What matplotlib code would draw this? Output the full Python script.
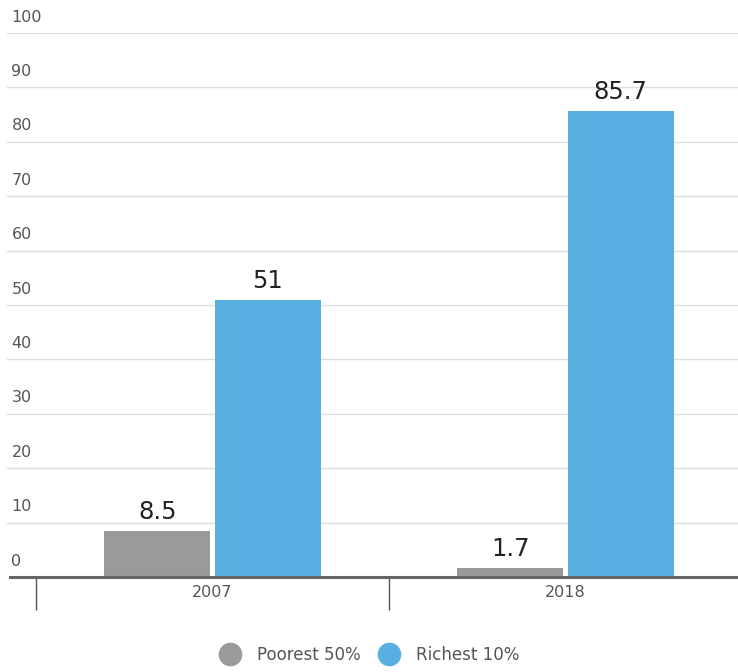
import numpy as np
import matplotlib
matplotlib.use("Agg")
import matplotlib.pyplot as plt
from matplotlib.lines import Line2D

years = ["2007", "2018"]
poorest = [8.5, 1.7]
richest = [51, 85.7]
series_names = ["Poorest 50%", "Richest 10%"]
yticks = [0, 10, 20, 30, 40, 50, 60, 70, 80, 90, 100]

GREY = "#9a9a9a"
BLUE = "#58b0e2"

plt.rcParams["font.family"] = ["DejaVu Sans"]

fig = plt.figure(figsize=(7.38, 6.72), dpi=100)
ax = fig.add_axes([7 / 738, 1 - 577 / 672, 731 / 738, 544 / 672])

x = np.arange(len(years))
w = 0.30
off = 0.1565
b1 = ax.bar(x - off, poorest, width=w, color=GREY, zorder=3)
b2 = ax.bar(x + off, richest, width=w, color=BLUE, zorder=3)

for bars, vals in ((b1, poorest), (b2, richest)):
    for rect, v in zip(bars, vals):
        ax.annotate(f"{v:g}", (rect.get_x() + rect.get_width() / 2, v),
                    xytext=(0, 5), textcoords="offset points",
                    ha="center", va="bottom", fontsize=17.5, color="#222222")

ax.set_xlim(-0.582, 1.489)
ax.set_ylim(0, 100)

# horizontal gridlines with labels sitting above them
for t in yticks[1:]:
    ax.axhline(t, color="#dedede", lw=1, zorder=1)
for t in yticks:
    ax.annotate(str(t), (0.006, t), xycoords=("axes fraction", "data"),
                xytext=(0, 6), textcoords="offset points",
                ha="left", va="bottom", fontsize=11.5, color="#555555")

ax.plot([0.004, 1], [0, 0], transform=ax.get_yaxis_transform(),
        color="#666666", lw=2.2, zorder=4, clip_on=False)

for s in ax.spines.values():
    s.set_visible(False)
ax.set_yticks([])
ax.set_xticks(x)
ax.set_xticklabels(years, fontsize=11.5, color="#555555")
ax.tick_params(axis="x", length=0, pad=6)
ax.set_xticks([-0.5, 0.5], minor=True)
ax.tick_params(axis="x", which="minor", length=24, width=1, color="#555555",
               direction="out")

handles = [Line2D([], [], ls="none", marker="o", markersize=16, color=c)
           for c in (GREY, BLUE)]
fig.legend(handles, series_names, loc="center", bbox_to_anchor=(0.502, 0.025),
           ncol=2, frameon=False, fontsize=12, labelcolor="#555555",
           handletextpad=1.1, columnspacing=1.2, handlelength=1.0)

fig.savefig("out.png", dpi=100)
